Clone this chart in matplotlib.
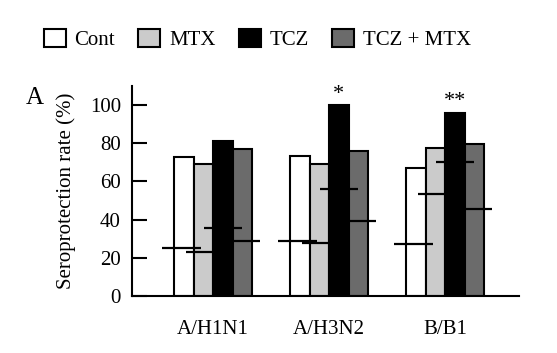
import numpy as np
import matplotlib
matplotlib.use('Agg')
import matplotlib.pyplot as plt
from matplotlib.patches import Patch

plt.rcParams['font.family'] = ['Liberation Serif', 'DejaVu Serif']
plt.rcParams['font.size'] = 15

groups = ['A/H1N1', 'A/H3N2', 'B/B1']
series = ['Cont', 'MTX', 'TCZ', 'TCZ + MTX']
colors = ['white', '#cbcbcb', 'black', '#6b6b6b']

# post-vaccination seroprotection (bars)
post = {
    'Cont': [73, 73.5, 67],
    'MTX': [69, 69, 77.5],
    'TCZ': [81, 100, 96],
    'TCZ + MTX': [77, 76, 79.5],
}
# pre-vaccination seroprotection (horizontal lines)
pre = {
    'Cont': [25, 29, 27],
    'MTX': [23, 27.5, 53.5],
    'TCZ': [35.5, 56, 70],
    'TCZ + MTX': [29, 39.5, 45.5],
}
stars = {'A/H3N2': '*', 'B/B1': '**'}

# line extents relative to bar center, in bar widths
line_ext = {'Cont': (-1.1, 0.9), 'MTX': (-0.9, 0.5),
            'TCZ': (-0.95, 1.0), 'TCZ + MTX': (-0.5, 0.9)}

fig = plt.figure(figsize=(5.57, 3.53), dpi=100)
ax = fig.add_axes([0.237, 0.1615, 0.695, 0.595])

x = np.arange(len(groups))
w = 0.168
for i, s in enumerate(series):
    xs = x + (i - 1.5) * w
    ax.bar(xs, post[s], w, color=colors[i], edgecolor='black', linewidth=1.5, zorder=2)
    l, r = line_ext[s]
    ax.hlines(pre[s], xs + l * w, xs + r * w, color='black', linewidth=1.6, zorder=3)

tcz_x = x + 0.5 * w
for j, g in enumerate(groups):
    if g in stars:
        ax.annotate(stars[g], (tcz_x[j], post['TCZ'][j]), xytext=(0, 1),
                    textcoords='offset points', ha='center', va='bottom', fontsize=16)

ax.set_xlim(-0.698, 2.638)
ax.set_ylim(0, 110)
ax.set_yticks([0, 20, 40, 60, 80, 100])
ax.set_xticks(x)
ax.set_xticklabels(groups)
ax.tick_params(axis='x', length=0, pad=17)
ax.tick_params(axis='y', direction='in', length=10.8, width=1.5, pad=8)
for sp in ['top', 'right']:
    ax.spines[sp].set_visible(False)
for sp in ['left', 'bottom']:
    ax.spines[sp].set_linewidth(1.5)
ax.set_ylabel('Seroprotection rate (%)', labelpad=10)

fig.text(35 / 557, 1 - 98 / 353, 'A', ha='center', va='center', fontsize=18)

handles = [Patch(facecolor=c, edgecolor='black', linewidth=1.5) for c in colors]
fig.legend(handles, series, loc='center', bbox_to_anchor=(0.462, 0.887), ncol=4,
           frameon=False, handlelength=1.06, handleheight=0.91, handletextpad=0.43,
           columnspacing=1.1, borderpad=0, fontsize=15)

fig.savefig('out.png', dpi=100)
